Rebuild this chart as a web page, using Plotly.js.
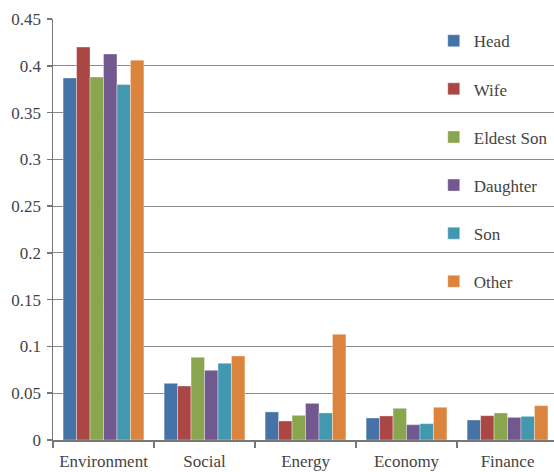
<!DOCTYPE html>
<html>
<head>
<meta charset="utf-8">
<script src="https://cdn.plot.ly/plotly-3.0.1.min.js"></script>
</head>
<body style="margin:0;background:#fff">
<div id="chart" style="width:554px;height:472px"></div>
<script>
var categories = ["Environment", "Social", "Energy", "Economy", "Finance"];
var seriesNames = ["Head", "Wife", "Eldest Son", "Daughter", "Son", "Other"];
var head      = [0.387, 0.0606, 0.030, 0.0235, 0.0214];
var wife      = [0.420, 0.0577, 0.0203, 0.0257, 0.026];
var eldestSon = [0.388, 0.0884, 0.0264, 0.0339, 0.0289];
var daughter  = [0.4126, 0.0745, 0.0392, 0.0164, 0.0242];
var son       = [0.380, 0.082, 0.0289, 0.0175, 0.0253];
var other     = [0.406, 0.0898, 0.113, 0.035, 0.0367];
var colors = ["#4572A7", "#AA4643", "#89A54E", "#71588F", "#4198AF", "#DB843D"];
var yTicks = [0, 0.05, 0.1, 0.15, 0.2, 0.25, 0.3, 0.35, 0.4, 0.45];
var yTickText = ["0", "0.05", "0.1", "0.15", "0.2", "0.25", "0.3", "0.35", "0.4", "0.45"];

var allSeries = [head, wife, eldestSon, daughter, son, other];
var traces = allSeries.map(function (vals, i) {
  return {
    type: "bar",
    name: seriesNames[i],
    x: categories,
    y: vals,
    legendgroup: "g" + i,
    marker: {color: colors[i], line: {color: "rgba(255,255,255,0.6)", width: 0.6}},
    hoverinfo: "skip"
  };
});

var layout = {
  width: 554,
  height: 472,
  margin: {l: 53, r: 0, t: 19, b: 32, pad: 0},
  barmode: "group",
  bargap: 0.2,
  bargroupgap: 0,
  font: {family: "Liberation Serif", size: 17},
  showlegend: true,
  legend: {
    x: 0.76, y: 0.99, xanchor: "left", yanchor: "top",
    bgcolor: "rgba(0,0,0,0)",
    tracegroupgap: 23,
    itemwidth: 30
  },
  xaxis: {
    type: "category",
    range: [-0.5, 4.46],
    showline: true, linecolor: "#777", linewidth: 1.5,
    ticks: "outside", tickson: "boundaries", ticklen: 6, tickcolor: "#777", tickwidth: 1.5,
    ticklabelstandoff: 5,
    showgrid: false,
    fixedrange: true
  },
  yaxis: {
    range: [0, 0.45],
    tickvals: yTicks,
    ticktext: yTickText,
    showline: true, linecolor: "#777", linewidth: 1.5,
    ticks: "outside", ticklen: 5, tickcolor: "#777", tickwidth: 1.5,
    ticklabelstandoff: 2,
    showgrid: true, gridcolor: "#8a8a8a", gridwidth: 1,
    zeroline: false,
    fixedrange: true
  }
};

Plotly.newPlot("chart", traces, layout, {staticPlot: true});
</script>
</body>
</html>
